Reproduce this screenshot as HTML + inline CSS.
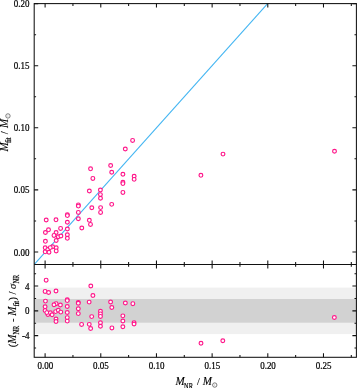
<!DOCTYPE html>
<html><head><meta charset="utf-8"><style>
html,body{margin:0;padding:0;background:#fff;width:357px;height:388px;overflow:hidden;font-family:"Liberation Serif",serif;}
</style></head><body>
<svg width="357" height="388" viewBox="0 0 357 388" style="position:absolute;left:0;top:0;will-change:transform">
<rect x="34.2" y="287.6" width="322.2" height="46.5" fill="#f0f0f0"/>
<rect x="34.2" y="299.0" width="322.2" height="23.69999999999999" fill="#d2d2d2"/>
<line x1="34.3" y1="264.4" x2="267.6" y2="3.6000000000000227" stroke="#45b6f2" stroke-width="1.1"/>
<g fill="#fff" stroke="#ff1589" stroke-width="1.15">
<circle cx="46.2" cy="220.0" r="1.9"/>
<circle cx="45.4" cy="232.5" r="1.9"/>
<circle cx="45.4" cy="241.3" r="1.9"/>
<circle cx="45.2" cy="247.8" r="1.9"/>
<circle cx="45.2" cy="251.8" r="1.9"/>
<circle cx="48.5" cy="229.8" r="1.9"/>
<circle cx="47.8" cy="249.5" r="1.9"/>
<circle cx="49.0" cy="252.2" r="1.9"/>
<circle cx="52.6" cy="246.8" r="1.9"/>
<circle cx="50.3" cy="247.6" r="1.9"/>
<circle cx="56.0" cy="219.8" r="1.9"/>
<circle cx="56.1" cy="232.5" r="1.9"/>
<circle cx="54.0" cy="235.4" r="1.9"/>
<circle cx="56.2" cy="240.5" r="1.9"/>
<circle cx="56.2" cy="247.8" r="1.9"/>
<circle cx="56.2" cy="250.9" r="1.9"/>
<circle cx="58.3" cy="236.7" r="1.9"/>
<circle cx="60.6" cy="228.4" r="1.9"/>
<circle cx="60.9" cy="236.0" r="1.9"/>
<circle cx="67.35" cy="214.7" r="1.9"/>
<circle cx="67.35" cy="215.6" r="1.9"/>
<circle cx="67.35" cy="222.2" r="1.9"/>
<circle cx="67.35" cy="229.0" r="1.9"/>
<circle cx="67.35" cy="234.8" r="1.9"/>
<circle cx="67.35" cy="238.3" r="1.9"/>
<circle cx="78.35" cy="204.9" r="1.9"/>
<circle cx="78.35" cy="206.1" r="1.9"/>
<circle cx="78.35" cy="212.4" r="1.9"/>
<circle cx="78.35" cy="218.7" r="1.9"/>
<circle cx="81.8" cy="228.0" r="1.9"/>
<circle cx="92.85" cy="178.4" r="1.9"/>
<circle cx="89.35" cy="191.0" r="1.9"/>
<circle cx="91.8" cy="207.7" r="1.9"/>
<circle cx="89.35" cy="220.3" r="1.9"/>
<circle cx="90.5" cy="224.4" r="1.9"/>
<circle cx="90.55" cy="168.8" r="1.9"/>
<circle cx="100.4" cy="190.0" r="1.9"/>
<circle cx="100.4" cy="194.6" r="1.9"/>
<circle cx="100.5" cy="198.2" r="1.9"/>
<circle cx="100.6" cy="207.6" r="1.9"/>
<circle cx="100.6" cy="212.4" r="1.9"/>
<circle cx="110.65" cy="165.5" r="1.9"/>
<circle cx="111.7" cy="172.2" r="1.9"/>
<circle cx="111.7" cy="204.35" r="1.9"/>
<circle cx="125.3" cy="149.0" r="1.9"/>
<circle cx="122.9" cy="174.2" r="1.9"/>
<circle cx="122.9" cy="182.2" r="1.9"/>
<circle cx="122.9" cy="183.6" r="1.9"/>
<circle cx="122.9" cy="192.4" r="1.9"/>
<circle cx="132.6" cy="140.4" r="1.9"/>
<circle cx="134.15" cy="176.2" r="1.9"/>
<circle cx="134.15" cy="179.35" r="1.9"/>
<circle cx="200.9" cy="175.3" r="1.9"/>
<circle cx="223.0" cy="154.1" r="1.9"/>
<circle cx="334.5" cy="151.2" r="1.9"/>
<circle cx="46.15" cy="280.15" r="1.9"/>
<circle cx="45.1" cy="291.4" r="1.9"/>
<circle cx="45.45" cy="301.1" r="1.9"/>
<circle cx="45.1" cy="306.8" r="1.9"/>
<circle cx="45.1" cy="310.6" r="1.9"/>
<circle cx="48.6" cy="292.5" r="1.9"/>
<circle cx="47.9" cy="314.45" r="1.9"/>
<circle cx="46.8" cy="312.6" r="1.9"/>
<circle cx="50.4" cy="312.7" r="1.9"/>
<circle cx="52.1" cy="314.8" r="1.9"/>
<circle cx="56.0" cy="291.0" r="1.9"/>
<circle cx="56.1" cy="303.65" r="1.9"/>
<circle cx="54.0" cy="304.8" r="1.9"/>
<circle cx="55.6" cy="311.6" r="1.9"/>
<circle cx="56.0" cy="319.0" r="1.9"/>
<circle cx="56.0" cy="321.45" r="1.9"/>
<circle cx="58.3" cy="310.3" r="1.9"/>
<circle cx="60.4" cy="305.05" r="1.9"/>
<circle cx="60.8" cy="312.1" r="1.9"/>
<circle cx="67.25" cy="299.7" r="1.9"/>
<circle cx="67.25" cy="300.6" r="1.9"/>
<circle cx="67.25" cy="306.45" r="1.9"/>
<circle cx="67.25" cy="312.5" r="1.9"/>
<circle cx="67.25" cy="317.6" r="1.9"/>
<circle cx="67.25" cy="321.1" r="1.9"/>
<circle cx="78.3" cy="302.4" r="1.9"/>
<circle cx="78.3" cy="303.3" r="1.9"/>
<circle cx="78.3" cy="308.7" r="1.9"/>
<circle cx="78.3" cy="313.6" r="1.9"/>
<circle cx="81.6" cy="324.4" r="1.9"/>
<circle cx="90.8" cy="285.95" r="1.9"/>
<circle cx="92.9" cy="295.55" r="1.9"/>
<circle cx="89.15" cy="302.1" r="1.9"/>
<circle cx="91.7" cy="316.6" r="1.9"/>
<circle cx="89.25" cy="324.35" r="1.9"/>
<circle cx="90.65" cy="328.55" r="1.9"/>
<circle cx="100.45" cy="311.25" r="1.9"/>
<circle cx="100.45" cy="313.9" r="1.9"/>
<circle cx="100.45" cy="316.4" r="1.9"/>
<circle cx="100.45" cy="322.7" r="1.9"/>
<circle cx="100.45" cy="326.2" r="1.9"/>
<circle cx="110.6" cy="302.0" r="1.9"/>
<circle cx="111.8" cy="307.45" r="1.9"/>
<circle cx="111.9" cy="327.9" r="1.9"/>
<circle cx="125.35" cy="302.95" r="1.9"/>
<circle cx="122.85" cy="315.85" r="1.9"/>
<circle cx="122.85" cy="320.95" r="1.9"/>
<circle cx="122.85" cy="326.75" r="1.9"/>
<circle cx="132.85" cy="303.65" r="1.9"/>
<circle cx="134.05" cy="322.6" r="1.9"/>
<circle cx="134.05" cy="324.0" r="1.9"/>
<circle cx="201.0" cy="343.3" r="1.9"/>
<circle cx="222.8" cy="340.75" r="1.9"/>
<circle cx="334.35" cy="317.5" r="1.9"/>
</g>
<g stroke="#111" stroke-width="1.05" fill="none">
<rect x="34.2" y="3.6" width="322.2" height="353.7"/>
<line x1="34.2" y1="264.4" x2="356.4" y2="264.4"/>
<path d="M45.10 3.6v4.0M45.10 260.4v8.0M45.10 357.3v-4.0M72.94 3.6v2.3M72.94 262.09999999999997v4.6M72.94 357.3v-2.3M100.78 3.6v4.0M100.78 260.4v8.0M100.78 357.3v-4.0M128.61 3.6v2.3M128.61 262.09999999999997v4.6M128.61 357.3v-2.3M156.45 3.6v4.0M156.45 260.4v8.0M156.45 357.3v-4.0M184.29 3.6v2.3M184.29 262.09999999999997v4.6M184.29 357.3v-2.3M212.13 3.6v4.0M212.13 260.4v8.0M212.13 357.3v-4.0M239.96 3.6v2.3M239.96 262.09999999999997v4.6M239.96 357.3v-2.3M267.80 3.6v4.0M267.80 260.4v8.0M267.80 357.3v-4.0M295.64 3.6v2.3M295.64 262.09999999999997v4.6M295.64 357.3v-2.3M323.48 3.6v4.0M323.48 260.4v8.0M323.48 357.3v-4.0M351.31 3.6v2.3M351.31 262.09999999999997v4.6M351.31 357.3v-2.3M34.2 251.98h4.0M356.4 251.98h-4.0M34.2 220.93h1.9M356.4 220.93h-1.9M34.2 189.89h4.0M356.4 189.89h-4.0M34.2 158.84h1.9M356.4 158.84h-1.9M34.2 127.79h4.0M356.4 127.79h-4.0M34.2 96.74h1.9M356.4 96.74h-1.9M34.2 65.70h4.0M356.4 65.70h-4.0M34.2 34.65h1.9M356.4 34.65h-1.9M34.2 3.60h4.0M356.4 3.60h-4.0M34.2 348.01h1.9M356.4 348.01h-1.9M34.2 335.62h4.0M356.4 335.62h-4.0M34.2 323.24h1.9M356.4 323.24h-1.9M34.2 310.85h4.0M356.4 310.85h-4.0M34.2 298.46h1.9M356.4 298.46h-1.9M34.2 286.08h4.0M356.4 286.08h-4.0M34.2 273.69h1.9M356.4 273.69h-1.9"/>
</g>
<g font-family="Liberation Serif" font-size="10.0" fill="#000" stroke="#000" stroke-width="0.22">
<text transform="translate(29.60,255.58) scale(0.9,1)" text-anchor="end">0.00</text>
<text transform="translate(29.60,193.49) scale(0.9,1)" text-anchor="end">0.05</text>
<text transform="translate(29.60,131.39) scale(0.9,1)" text-anchor="end">0.10</text>
<text transform="translate(29.60,69.30) scale(0.9,1)" text-anchor="end">0.15</text>
<text transform="translate(29.60,7.20) scale(0.9,1)" text-anchor="end">0.20</text>
<text transform="translate(29.60,289.68) scale(0.9,1)" text-anchor="end">4</text>
<text transform="translate(29.60,314.45) scale(0.9,1)" text-anchor="end">0</text>
<text transform="translate(29.60,339.22) scale(0.9,1)" text-anchor="end">-4</text>
<text transform="translate(45.30,369.00) scale(0.9,1)" text-anchor="middle">0.00</text>
<text transform="translate(100.98,369.00) scale(0.9,1)" text-anchor="middle">0.05</text>
<text transform="translate(156.65,369.00) scale(0.9,1)" text-anchor="middle">0.10</text>
<text transform="translate(212.33,369.00) scale(0.9,1)" text-anchor="middle">0.15</text>
<text transform="translate(268.00,369.00) scale(0.9,1)" text-anchor="middle">0.20</text>
<text transform="translate(323.68,369.00) scale(0.9,1)" text-anchor="middle">0.25</text>
</g>
<g font-family="Liberation Serif" fill="#000" stroke="#000" stroke-width="0.12">
<text transform="translate(175.55,384.70) scale(0.95,1)" font-size="11.6" font-style="italic">M</text>
<text transform="translate(184.10,388.50) scale(0.85,1)" font-size="7.5" stroke-width="0.2">NR</text>
<text transform="translate(197.10,384.70) scale(0.95,1)" font-size="11">/</text>
<text transform="translate(202.75,384.70) scale(0.95,1)" font-size="11.6" font-style="italic">M</text>
<circle cx="214.75" cy="385.05" r="2.2" fill="none" stroke="#5a5a5a" stroke-width="0.8"/><circle cx="214.75" cy="385.05" r="0.45" fill="#5a5a5a" stroke="none"/>
<text transform="translate(7.80,151.55) rotate(-90) scale(0.95,1)" font-size="11.6" font-style="italic">M</text>
<text transform="translate(10.80,143.05) rotate(-90) scale(0.85,1)" font-size="7.5" stroke-width="0.2">fit</text>
<text transform="translate(7.80,134.35) rotate(-90) scale(0.95,1)" font-size="11">/</text>
<text transform="translate(7.80,127.95) rotate(-90) scale(0.95,1)" font-size="11.6" font-style="italic">M</text>
<circle cx="7.95" cy="115.95" r="2.2" fill="none" stroke="#5a5a5a" stroke-width="0.8"/><circle cx="7.95" cy="115.95" r="0.45" fill="#5a5a5a" stroke="none"/>
<text transform="translate(15.60,347.30) rotate(-90) scale(0.95,1)" font-size="11">(</text>
<text transform="translate(15.60,343.75) rotate(-90) scale(0.95,1)" font-size="11.6" font-style="italic">M</text>
<text transform="translate(18.60,334.60) rotate(-90) scale(0.85,1)" font-size="7.5" stroke-width="0.2">NR</text>
<text transform="translate(15.60,321.90) rotate(-90) scale(0.95,1)" font-size="11">-</text>
<text transform="translate(15.60,315.65) rotate(-90) scale(0.95,1)" font-size="11.6" font-style="italic">M</text>
<text transform="translate(18.60,306.60) rotate(-90) scale(0.85,1)" font-size="7.5" stroke-width="0.2">fit</text>
<text transform="translate(15.60,300.40) rotate(-90) scale(0.95,1)" font-size="11">)</text>
<text transform="translate(15.60,294.50) rotate(-90) scale(0.95,1)" font-size="11">/</text>
<text transform="translate(15.60,288.90) rotate(-90) scale(0.95,1)" font-size="11" font-style="italic">&#x3C3;</text>
<text transform="translate(18.60,283.50) rotate(-90) scale(0.85,1)" font-size="7.5" stroke-width="0.2">NR</text>
</g>
</svg>
</body></html>
